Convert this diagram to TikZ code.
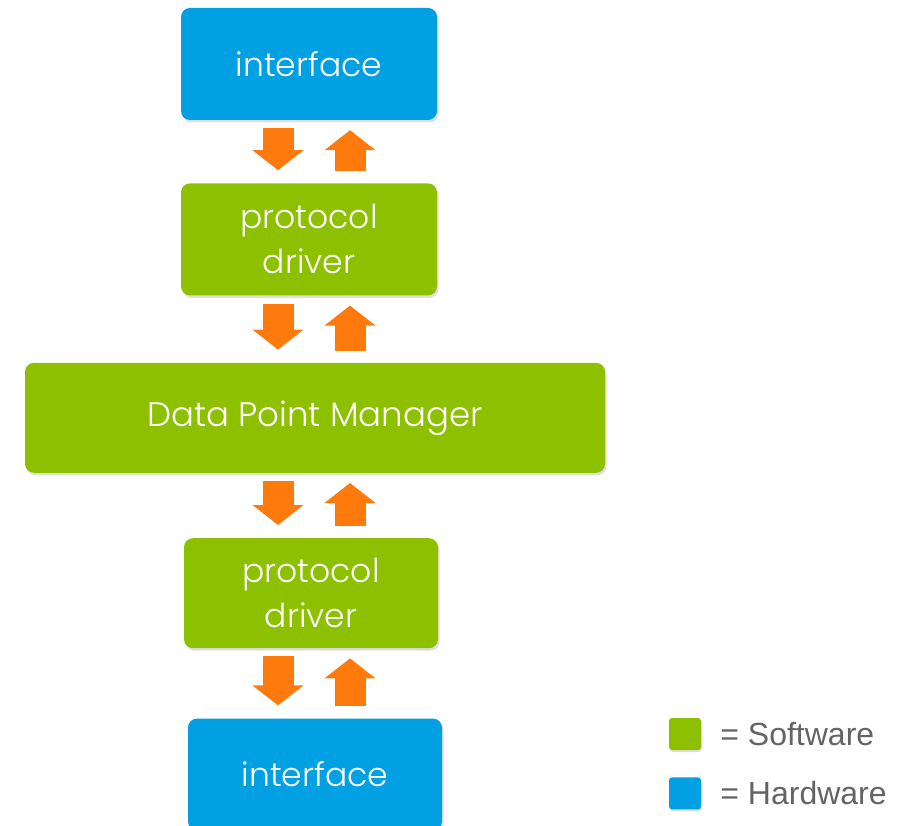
\documentclass[tikz,border=0pt]{standalone}
\usepackage{fontspec}
\setmainfont{Liberation Sans}
\newfontfamily\boxfont{Poppins}[UprightFont=* Light]
\usetikzlibrary{
  arrows.meta,
  positioning,  % Function "of" (e.g. [below=of x])
  shadows,      % Drop shadows under the boxes
}
\definecolor{hwblue}{RGB}{0,160,227}
\definecolor{swgreen}{RGB}{141,193,0}
\definecolor{flow}{RGB}{255,122,12}
\definecolor{legendgray}{RGB}{100,100,100}
\def\myndist{65pt}
\tikzset{
  my box/.style={
    rectangle,
    rounded corners=9pt,
    text=white,
    font=\boxfont\fontsize{33}{45}\selectfont,
    align=center,
    inner sep=0pt,
    minimum width=256pt,
    minimum height=112pt,
    drop shadow={shadow xshift=1.5pt,shadow yshift=-2.5pt,opacity=0.25}
  },
  hw/.style={my box, fill=hwblue},
  sw/.style={my box, fill=swgreen},
  flow arrow/.style={
    draw=flow,
    line width=31pt,
    -{Triangle[width=50pt,length=20pt]}
  },
  legend key/.style={
    rectangle,
    rounded corners=3pt,
    minimum size=32pt,
    inner sep=0pt,
    drop shadow={shadow xshift=1pt,shadow yshift=-2pt,opacity=0.25}
  },
  legend text/.style={
    inner sep=0pt,
    text=legendgray,
    font=\fontsize{32}{38}\selectfont
  }
}
\begin{document}
\begin{tikzpicture}[node distance=\myndist]
\useasboundingbox (0,0) rectangle (902pt,-826pt);
% stack of layers
\node[hw] (topif) at (309pt,-64pt) {interface};
\node[sw] (topdrv) [below=63pt of topif] {protocol\\driver};
\node[sw, minimum width=580pt, minimum height=110pt, font=\boxfont\fontsize{34}{45}\selectfont]
  (dpm) [below=67pt of topdrv, xshift=6pt] {Data Point Manager};
\node[sw, minimum width=254pt, minimum height=110pt] (botdrv) [below=of dpm, xshift=-4pt] {protocol\\driver};
\node[hw, minimum width=254pt] (botif) [below=70pt of botdrv, xshift=4pt] {interface};
% columns of the arrows
\coordinate (downcol) at (278pt,0);
\coordinate (upcol) at (350pt,0);
% data flow down and up
\foreach \a/\b in {topif/topdrv, topdrv/dpm, dpm/botdrv, botdrv/botif} {
  \draw[flow arrow, shorten <=8pt, shorten >=13pt]
    (downcol |- \a.south) -- (downcol |- \b.north);
  \draw[flow arrow, shorten <=12pt, shorten >=10pt]
    (upcol |- \b.north) -- (upcol |- \a.south);
}
% legend
\node[legend key, fill=swgreen] (swkey) at (685pt,-734pt) {};
\node[legend text, right=19pt of swkey] (swtext) {= Software};
\node[legend key, fill=hwblue] (hwkey) [below=27pt of swkey] {};
\node[legend text, right=19pt of hwkey] (hwtext) {= Hardware};
\end{tikzpicture}
\end{document}
